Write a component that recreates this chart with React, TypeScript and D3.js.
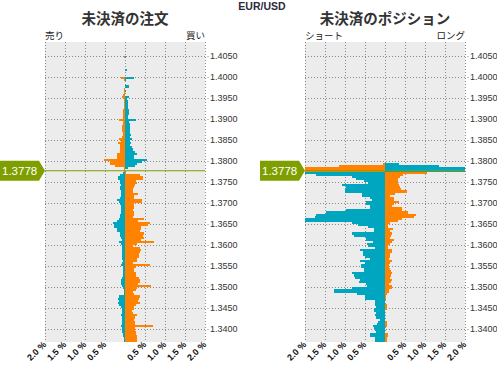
import React from 'react';
import * as d3 from 'd3';

const CURRENT_PRICE = 1.3778;
const BUCKET = 0.0005;

// order book (%), one row per 0.0005 bucket, first row's upper edge = orderStart
const orderStart = 1.405;
const orderLeft = [
  0.03, 0, 0, 0, 0, 0, 0, 0, 0, 0,
  0.1, 0.03, 0, 0, 0, 0.03, 0.03, 0.03, 0.05, 0.08,
  0.03, 0.03, 0.03, 0.03, 0.03, 0.05, 0.05, 0.05, 0.05, 0.05,
  0.15, 0.05, 0.05, 0.08, 0.08, 0.08, 0.05, 0.05, 0.08, 0.15,
  0.1, 0.18, 0.13, 0.13, 0.13, 0.13, 0.2, 0.2, 0.2, 0.53,
  0.38, 0.38, 0.25, 0.03, 0.03,
  0.05, 0.13, 0.18, 0.18, 0.13, 0.13, 0.1, 0.13, 0.13, 0.1,
  0.1, 0.1, 0.13, 0.2, 0.15, 0.13, 0.1, 0.1, 0.1, 0.1,
  0.13, 0.13, 0.15, 0.2, 0.3, 0.28, 0.28, 0.2, 0.2, 0.13,
  0.13, 0.1, 0.08, 0.15, 0.1, 0.08, 0.08, 0.08, 0.08, 0.08,
  0.08, 0.08, 0.05, 0.08, 0.1, 0.05, 0.05, 0.05, 0.05, 0.05,
  0.08, 0.1, 0.1, 0.1, 0.08, 0.05, 0.03, 0.03, 0.03, 0.15,
  0.18, 0.15, 0.18, 0.15, 0.1, 0.08, 0.08, 0.08, 0.1, 0.08,
  0.08, 0.08, 0.08, 0.1, 0.08, 0.08, 0.08, 0.05, 0.05, 0.03, 0.03,
];
const orderRight = [
  0.03, 0, 0, 0, 0, 0, 0.05, 0, 0, 0,
  0.23, 0.03, 0, 0, 0.1, 0, 0.03, 0, 0, 0.1,
  0.05, 0.08, 0.08, 0.08, 0.08, 0.1, 0.1, 0.1, 0.08, 0.08,
  0.28, 0.1, 0.13, 0.13, 0.13, 0.13, 0.13, 0.15, 0.13, 0.18,
  0.13, 0.15, 0.13, 0.18, 0.2, 0.25, 0.3, 0.23, 0.23, 0.55,
  0.43, 0.3, 0.25, 0.08, 0,
  0.03, 0.38, 0.45, 0.45, 0.28, 0.3, 0.25, 0.23, 0.2, 0.2,
  0.33, 0.23, 0.23, 0.43, 0.43, 0.23, 0.23, 0.23, 0.2, 0.23,
  0.23, 0.2, 0.48, 0.33, 0.63, 0.58, 0.4, 0.4, 0.38, 0.48,
  0.45, 0.48, 0.4, 0.73, 0.3, 0.2, 0.38, 0.4, 0.38, 0.35,
  0.35, 0.3, 0.3, 0.2, 0.63, 0.28, 0.23, 0.23, 0.28, 0.28,
  0.35, 0.38, 0.38, 0.33, 0.65, 0.3, 0.28, 0.2, 0.23, 0.38,
  0.35, 0.33, 0.38, 0.28, 0.23, 0.23, 0.18, 0.2, 0.3, 0.25,
  0.23, 0.25, 0.25, 0.7, 0.25, 0.25, 0.28, 0.28, 0.3, 0.3, 0.3,
];

// position book (%), first row's upper edge = positionStart
const positionStart = 1.3795;
const positionLeft = [
  0.05, 1.15, 2.3, 2.3,
  2.3, 1.73, 0.83, 0.73, 0.53, 0.43, 1.08, 0.98, 1.0, 1.0,
  0.58, 0.58, 0.38, 0.33, 0.48, 0.48, 0.38, 0.38, 0.98, 1.48,
  1.73, 1.75, 2.05, 2.05, 0.83, 0.68, 0.43, 0.28, 0.28, 0.83,
  0.78, 0.48, 0.48, 0.3, 0.45, 0.43, 0.25, 0.63, 0.55, 0.55,
  0.5, 0.38, 0.63, 0.5, 0.6, 0.6, 0.53, 0.53, 0.83, 0.78,
  0.75, 0.63, 0.65, 0.48, 0.45, 0.83, 1.28, 1.28, 0.7, 0.5,
  0.5, 0.25, 0.25, 0.25, 0.23, 0.28, 0.28, 0.23, 0.25, 0.23,
  0.13, 0.18, 0.2, 0.3, 0.28, 0.25, 0.23, 0.38, 0.38, 0.25, 0.25,
];
const positionRight = [
  0.35, 1.35, 2.3, 2.3,
  1.05, 0.45, 0.38, 0.33, 0.33, 0.33, 0.35, 0.38, 0.4, 0.55,
  0.25, 0.13, 0.23, 0.23, 0.35, 0.23, 0.18, 0.43, 0.43, 0.58,
  0.78, 0.73, 0.43, 0.33, 0.13, 0.08, 0.08, 0.2, 0.13, 0.18,
  0.15, 0.13, 0.23, 0.18, 0.13, 0.08, 0.08, 0.18, 0.18, 0.13,
  0.13, 0.1, 0.18, 0.13, 0.1, 0.1, 0.13, 0.15, 0.18, 0.15,
  0.13, 0.18, 0.15, 0.1, 0.18, 0.18, 0.1, 0.1, 0.05, 0.03,
  0.03, 0, 0, 0.05, 0.05, 0.05, 0, 0, 0, 0,
  0, 0.05, 0.05, 0.05, 0, 0, 0, 0.08, 0.08, 0.05, 0.05,
];

const priceTicks = [
  '1.4050', '1.4000', '1.3950', '1.3900', '1.3850', '1.3800', '1.3750',
  '1.3700', '1.3650', '1.3600', '1.3550', '1.3500', '1.3450', '1.3400',
];
const pctGrid = [-2, -1.5, -1, -0.5, 0, 0.5, 1, 1.5, 2];
const pctLabels = ['2.0 %', '1.5 %', '1.0 %', '0.5 %', '', '0.5 %', '1.0 %', '1.5 %', '2.0 %'];

const ORANGE = '#ff8200';
const TEAL = '#00a5c0';
const GREEN = '#7f9f00';
const JP_FONT = '"Noto Sans CJK JP", sans-serif';
const EN_FONT = '"Liberation Sans", Arial, sans-serif';

const PLOT_TOP = 42;
const PLOT_BOTTOM = 342;
const PLOT_W = 160;

// 1.4050 sits at y=56 and each 0.005 step is 21px
const yScale = d3.scaleLinear()
  .domain([1.4050 + 14 / 4200, 1.3400 - 13 / 4200])
  .range([PLOT_TOP, PLOT_BOTTOM]);

type PanelProps = {
  id: string;
  x0: number;
  title: string;
  leftLabel: string;
  rightLabel: string;
  start: number;
  left: number[];
  right: number[];
};

const Panel = ({ id, x0, title, leftLabel, rightLabel, start, left, right }: PanelProps) => {
  const x = d3.scaleLinear().domain([-2, 2]).range([x0, x0 + PLOT_W]);
  const priceY = yScale(CURRENT_PRICE);

  const rows = left.map((lv, i) => {
    const upper = start - i * BUCKET;
    const lower = upper - BUCKET;
    const above = upper > CURRENT_PRICE + 1e-9;
    return { upper, lower, lv, rv: right[i], above };
  });

  return (
    <g>
      <defs>
        <clipPath id={`clip-${id}`}>
          <rect x={x0} y={PLOT_TOP} width={PLOT_W} height={PLOT_BOTTOM - PLOT_TOP} />
        </clipPath>
      </defs>
      <text x={x0 + PLOT_W / 2} y={24} textAnchor="middle" fontFamily={JP_FONT} fontSize={14.5}
        fontWeight="bold" fill="#333">{title}</text>
      <text x={x0} y={39} fontFamily={JP_FONT} fontSize={9.5} fill="#222">{leftLabel}</text>
      <text x={x0 + PLOT_W} y={39} textAnchor="end" fontFamily={JP_FONT} fontSize={9.5} fill="#222">{rightLabel}</text>

      <rect x={x0} y={PLOT_TOP} width={PLOT_W} height={PLOT_BOTTOM - PLOT_TOP} fill="#ececec" />

      {/* grid */}
      {priceTicks.map(t => (
        <g key={t}>
          <line x1={x0} x2={x0 + PLOT_W} y1={Math.round(yScale(+t)) + 0.5} y2={Math.round(yScale(+t)) + 0.5}
            stroke="#8a8a8a" strokeDasharray="1 2" />
          <line x1={x0 + PLOT_W + 2} x2={x0 + PLOT_W + 4} y1={Math.round(yScale(+t)) + 0.5}
            y2={Math.round(yScale(+t)) + 0.5} stroke="#c4c4c4" />
          <text x={x0 + PLOT_W + 5} y={yScale(+t)} dy="0.35em" fontFamily={EN_FONT} fontSize={9}
            fill="#333">{t}</text>
        </g>
      ))}
      {pctGrid.map(p => (
        <line key={p} x1={Math.round(x(p)) + 0.5} x2={Math.round(x(p)) + 0.5} y1={PLOT_TOP} y2={PLOT_BOTTOM}
          stroke="#8a8a8a" strokeDasharray="1 2" />
      ))}

      {/* bars */}
      <g clipPath={`url(#clip-${id})`} shapeRendering="crispEdges">
        {rows.map((r, i) => {
          const yTop = yScale(r.upper);
          const h = yScale(r.lower) - yTop;
          return (
            <g key={i}>
              {r.lv > 0 && (
                <rect x={x(-r.lv)} y={yTop} width={x(0) - x(-r.lv)} height={h}
                  fill={r.above ? ORANGE : TEAL} />
              )}
              {r.rv > 0 && (
                <rect x={x(0)} y={yTop} width={x(r.rv) - x(0)} height={h}
                  fill={r.above ? TEAL : ORANGE} />
              )}
            </g>
          );
        })}
      </g>

      {/* current price */}
      <line x1={x0} x2={x0 + PLOT_W} y1={priceY + 0.5} y2={priceY + 0.5} stroke={GREEN} strokeWidth={1.2} />
      <polygon
        points={`${x0 - 45},${priceY - 9.5} ${x0 - 6},${priceY - 9.5} ${x0},${priceY + 0.5} ${x0 - 6},${priceY + 10.5} ${x0 - 45},${priceY + 10.5}`}
        fill={GREEN} />
      <text x={x0 - 43} y={priceY + 0.5} dy="0.36em" fontFamily={EN_FONT} fontSize={11.5} fill="#fff">
        {CURRENT_PRICE.toFixed(4)}
      </text>

      {/* percent labels */}
      {pctGrid.map((p, i) => pctLabels[i] && (
        <text key={p} transform={`translate(${x(p) + 2},${PLOT_BOTTOM + 3}) rotate(-45)`} textAnchor="end"
          fontFamily={EN_FONT} fontSize={9} fontWeight="bold" fill="#111">{pctLabels[i]}</text>
      ))}
    </g>
  );
};

export default function App() {
  return (
    <div style={{ position: 'absolute', left: 0, top: 0 }}>
      <svg width={497} height={365} style={{ display: 'block', background: '#fff' }}>
        <text x={262} y={10} textAnchor="middle" fontFamily={EN_FONT} fontSize={10.5} fontWeight="bold"
          fill="#2a2a3a">EUR/USD</text>
        <Panel id="orders" x0={45} title="未決済の注文" leftLabel="売り" rightLabel="買い"
          start={orderStart} left={orderLeft} right={orderRight} />
        <Panel id="positions" x0={305} title="未決済のポジション" leftLabel="ショート" rightLabel="ロング"
          start={positionStart} left={positionLeft} right={positionRight} />
      </svg>
    </div>
  );
}
